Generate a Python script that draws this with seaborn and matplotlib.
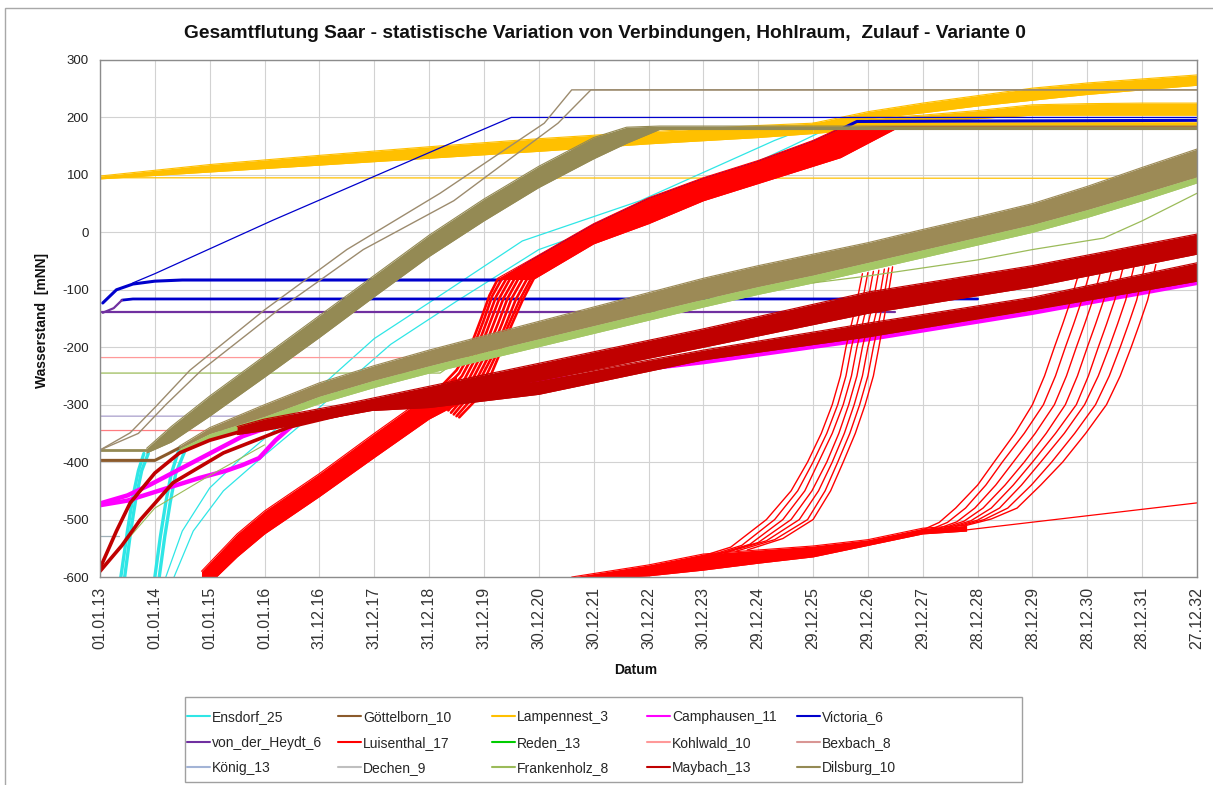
import numpy as np
import pandas as pd
import matplotlib
matplotlib.use("Agg")
import matplotlib.pyplot as plt
from matplotlib.lines import Line2D
from matplotlib.patches import Rectangle
import seaborn as sns

# ---------------- texts / axes ----------------
TITLE = "Gesamtflutung Saar - statistische Variation von Verbindungen, Hohlraum,  Zulauf - Variante 0"
Y_LABEL = "Wasserstand  [mNN]"
X_LABEL = "Datum"
START_DATE = "2013-01-01"
TICK_STEP_DAYS = 365
X_TICK_STEPS = list(range(0, 21))
Y_TICKS = [-600, -500, -400, -300, -200, -100, 0, 100, 200, 300]

SERIES = ["Ensdorf_25", "Göttelborn_10", "Lampennest_3", "Camphausen_11", "Victoria_6",
          "von_der_Heydt_6", "Luisenthal_17", "Reden_13", "Kohlwald_10", "Bexbach_8",
          "König_13", "Dechen_9", "Frankenholz_8", "Maybach_13", "Dilsburg_10"]
PALETTE = ["#2FE6E6", "#8B5A2B", "#FFC000", "#FF00FF", "#0000CC",
           "#7030A0", "#FF0000", "#00CC00", "#FF9999", "#D99694",
           "#A3B4D6", "#BFBFBF", "#9BBB59", "#C00000", "#948A54"]

# ---------------- data: (years after start, water level mNN) ----------------
# Ensdorf
ENS_THICK_1A = [(0.38, -600), (0.5, -520), (0.6, -460), (0.7, -415), (0.8, -385)]
ENS_THICK_1B = [(0.45, -600), (0.56, -520), (0.66, -460), (0.76, -415), (0.88, -385)]
ENS_THICK_2A = [(1.0, -600), (1.1, -530), (1.2, -470), (1.3, -420), (1.45, -375)]
ENS_THICK_2B = [(1.08, -600), (1.18, -530), (1.28, -470), (1.38, -420), (1.55, -380)]
ENS_THIN_1 = [(1.2, -600), (1.5, -520), (2.0, -445), (2.55, -395), (3.3, -335), (4.1, -262),
              (5.0, -185), (6.2, -110), (7.7, -15), (9.85, 55), (12.3, 160), (12.9, 182), (20, 182)]
ENS_THIN_2 = [(1.35, -600), (1.7, -520), (2.25, -450), (2.85, -400), (3.6, -340), (4.4, -270),
              (5.3, -195), (6.5, -120), (8.0, -30), (10.15, 42), (12.6, 150), (13.3, 182), (20, 182)]
# Göttelborn
GOT_START = [(0, -397), (1.0, -397), (1.25, -385), (1.45, -375)]
# Lampennest
GOLD_THIN = [(0, 95), (20, 94)]
GOLD_T = [0, 2, 4, 6, 8, 10, 12, 13]
GOLD_HI = [98, 118, 134, 149, 163, 175, 186, 190]
GOLD_LO = [93, 105, 117, 129, 141, 154, 165, 172]
GOLD_R_T = [13, 14, 15, 16, 17, 18, 19, 20]
GOLD_UP_HI = [190, 210, 225, 238, 251, 260, 267, 274]
GOLD_UP_LO = [186, 198, 208, 220, 230, 240, 248, 256]
GOLD_MID_HI = [188, 198, 204, 212, 222, 224, 225, 225]
GOLD_MID_LO = [180, 188, 192, 198, 204, 204, 204, 204]
GOLD_LOW_HI = [190, 192, 192, 192, 192, 192, 192, 192]
GOLD_LOW_LO = [172, 180, 180, 180, 180, 180, 180, 180]
# Camphausen
CAMP_UPPER = [(0, -472), (0.5, -458), (0.9, -440), (1.4, -415), (1.8, -395), (2.6, -355), (3.2, -335),
              (3.6, -322), (5, -302), (7, -272), (9, -248), (11, -226), (14, -186), (17, -140), (20, -88)]
CAMP_LOWER = [(0, -475), (0.5, -467), (0.9, -455), (1.8, -428), (2.3, -415), (2.6, -405),
              (2.9, -393), (3.2, -362), (3.5, -337), (3.8, -325)]
# Victoria
VIC_MAIN = [(0.05, -123), (0.3, -100), (0.6, -90), (1.0, -85), (1.5, -83), (7.3, -83), (7.9, -48),
            (9, 12), (10, 57), (11, 92), (12, 122), (13, 157), (13.5, 179), (13.8, 193), (20, 195)]
VIC_THIN = [(0.6, -88), (1.0, -72), (3.15, 21), (6.2, 147), (7.3, 192), (7.5, 200), (20, 200)]
VIC_LEVEL = [(0.4, -118), (0.6, -116), (16, -116)]
# von der Heydt
VDH_LEVEL = [(0, -139), (14.5, -139)]
VDH_RISE = [(0.05, -140), (0.25, -132), (0.4, -118)]
# Luisenthal
LUI1_T = [1.85, 2.5, 3, 4, 5, 6, 6.5]
LUI1_HI = [-590, -525, -485, -420, -350, -282, -250]
LUI1_LO = [-625, -565, -525, -460, -392, -325, -300]
LUI_FAN1 = [
    [(6.1, -280), (6.5, -240), (6.75, -200), (6.95, -150), (7.1, -110), (7.25, -82)],
    [(6.15, -287), (6.55, -245), (6.8, -202), (7.0, -152), (7.15, -111), (7.32, -82)],
    [(6.2, -294), (6.6, -250), (6.86, -204), (7.06, -153), (7.22, -112), (7.4, -82)],
    [(6.25, -300), (6.65, -255), (6.92, -206), (7.12, -155), (7.29, -113), (7.47, -82)],
    [(6.3, -306), (6.7, -260), (6.98, -208), (7.19, -156), (7.36, -114), (7.55, -82)],
    [(6.35, -310), (6.75, -264), (7.04, -210), (7.26, -158), (7.43, -115), (7.62, -82)],
    [(6.4, -314), (6.8, -268), (7.1, -213), (7.33, -159), (7.5, -116), (7.7, -82)],
    [(6.45, -317), (6.85, -271), (7.15, -216), (7.4, -160), (7.58, -117), (7.78, -82)],
    [(6.5, -320), (6.92, -274), (7.2, -218), (7.45, -161), (7.65, -118), (7.85, -82)],
    [(6.55, -322), (7.0, -277), (7.25, -220), (7.5, -162), (7.7, -119), (7.9, -82)],
]
LUI2_T = [7.25, 7.9, 9, 10, 11, 12, 13, 13.5, 14.5, 20]
LUI2_HI = [-80, -45, 15, 60, 95, 125, 160, 182, 184, 184]
LUI2_LO = [-82, -82, -20, 15, 55, 85, 115, 130, 180, 180]
LUI3_T = [8.6, 10, 11, 12, 13, 14, 15, 15.8]
LUI3_HI = [-600, -579, -560, -553, -546, -535, -515, -510]
LUI3_LO = [-605, -598, -588, -576, -565, -545, -525, -520]
LUI_FAN2 = [
    [(10.6, -575), (11.5, -548), (12.15, -500), (12.6, -450), (12.9, -400), (13.15, -350),
     (13.35, -300), (13.5, -250), (13.6, -200), (13.8, -120), (13.9, -72)],
    [(10.8, -572), (11.7, -545), (12.3, -500), (12.72, -450), (13.0, -400), (13.25, -350),
     (13.45, -300), (13.6, -250), (13.7, -200), (13.9, -120), (14.0, -70)],
    [(11.0, -568), (11.85, -543), (12.45, -500), (12.85, -450), (13.1, -400), (13.35, -350),
     (13.55, -300), (13.7, -250), (13.8, -200), (14.0, -120), (14.1, -68)],
    [(11.2, -562), (12.0, -540), (12.6, -500), (12.98, -450), (13.25, -400), (13.47, -350),
     (13.65, -300), (13.8, -250), (13.9, -200), (14.1, -120), (14.2, -66)],
    [(11.4, -558), (12.15, -537), (12.75, -500), (13.1, -450), (13.35, -400), (13.57, -350),
     (13.75, -300), (13.9, -250), (14.0, -200), (14.2, -120), (14.3, -64)],
    [(11.6, -555), (12.3, -535), (12.9, -500), (13.22, -450), (13.45, -400), (13.67, -350),
     (13.85, -300), (14.0, -250), (14.1, -200), (14.28, -120), (14.38, -62)],
    [(11.8, -553), (12.45, -533), (13.0, -500), (13.32, -450), (13.55, -400), (13.77, -350),
     (13.95, -300), (14.1, -250), (14.2, -200), (14.35, -120), (14.45, -60)],
]
LUI_FAN3 = [
    [(15.0, -518), (15.3, -505), (15.6, -480), (16.0, -440), (16.3, -400), (16.68, -350),
     (17.0, -300), (17.22, -250), (17.4, -200), (17.55, -160), (17.7, -118), (17.85, -70)],
    [(15.15, -517), (15.45, -505), (15.78, -480), (16.15, -440), (16.45, -400), (16.85, -350),
     (17.2, -300), (17.42, -250), (17.6, -200), (17.75, -160), (17.9, -118), (18.05, -68)],
    [(15.3, -515), (15.62, -504), (15.95, -480), (16.33, -440), (16.65, -400), (17.05, -350),
     (17.4, -300), (17.62, -250), (17.8, -200), (17.95, -160), (18.1, -118), (18.25, -66)],
    [(15.4, -514), (15.75, -503), (16.1, -480), (16.5, -440), (16.85, -400), (17.25, -350),
     (17.6, -300), (17.82, -250), (18.0, -200), (18.15, -160), (18.3, -118), (18.45, -64)],
    [(15.5, -513), (15.88, -502), (16.25, -480), (16.65, -440), (17.0, -400), (17.42, -350),
     (17.8, -300), (18.02, -250), (18.2, -200), (18.35, -160), (18.5, -118), (18.65, -62)],
    [(15.6, -512), (16.0, -501), (16.4, -480), (16.8, -440), (17.15, -400), (17.58, -350),
     (17.95, -300), (18.2, -250), (18.4, -200), (18.55, -160), (18.7, -118), (18.85, -60)],
    [(15.7, -511), (16.12, -500), (16.55, -480), (16.98, -440), (17.35, -400), (17.77, -350),
     (18.15, -300), (18.4, -250), (18.6, -200), (18.75, -160), (18.9, -118), (19.05, -58)],
    [(15.8, -510), (16.25, -499), (16.72, -480), (17.15, -440), (17.55, -400), (17.97, -350),
     (18.35, -300), (18.6, -250), (18.8, -200), (18.95, -160), (19.1, -118), (19.25, -56)],
]
LUI_TAIL = [(15.8, -518), (20, -471)]
# Kohlwald / Bexbach / König / Dechen
KOH_LEVEL = [(0, -218), (7.0, -218), (7.5, -185)]
BEX_LEVEL = [(0, -345), (2.6, -345), (3.0, -325)]
KON_LEVEL = [(0, -320), (2.8, -320), (3.1, -305)]
DEC_LEVEL = [(0, -528), (0.35, -528)]
# Frankenholz
FRK_LEVEL = [(0, -245), (6.2, -245), (6.5, -225)]
FRK_LEFT = [(0, -590), (0.5, -535), (1.0, -480), (1.95, -426), (3.0, -370)]
FRK_RIGHT = [(13, -88), (14, -76), (15, -62), (16, -48), (17, -30), (18.3, -10), (19, 20), (20, 68)]
# Maybach
MAY_A = [(0, -585), (0.3, -520), (0.55, -471), (1.0, -419), (1.45, -384), (2.0, -362), (3.0, -335)]
MAY_B = [(0, -590), (0.4, -545), (0.73, -501), (1.33, -436), (2.25, -384), (3.45, -339), (4.5, -315), (5.9, -290)]
MAY_UP_T = [2.5, 3, 4.5, 6, 8, 11, 14, 17, 20]
MAY_UP_HI = [-338, -325, -298, -268, -228, -168, -104, -58, -3]
MAY_UP_LO = [-352, -345, -318, -292, -258, -200, -141, -95, -38]
MAY_LOW_T = [5, 6, 8, 11, 14, 17, 20]
MAY_LOW_HI = [-295, -285, -258, -205, -158, -113, -53]
MAY_LOW_LO = [-310, -305, -282, -222, -182, -135, -85]
# Dilsburg
DIL_START = [(0, -379), (0.85, -379)]
DIL_THIN_A = [(0, -379), (0.55, -349), (1.0, -305), (1.64, -240), (3.0, -135), (4.5, -30),
              (6.2, 68), (8.1, 190), (8.6, 248), (20, 248)]
DIL_THIN_B = [(0, -379), (0.7, -350), (1.2, -300), (1.85, -240), (3.25, -135), (4.8, -30),
              (6.45, 55), (8.35, 190), (8.95, 248), (20, 248)]
DIL_UP_T = [0.85, 1.3, 2, 3, 4, 5, 6, 7, 8, 9, 9.6, 10.2, 20]
DIL_UP_HI = [-376, -338, -285, -215, -145, -75, -5, 58, 115, 165, 183, 185, 185]
DIL_UP_LO = [-384, -365, -320, -252, -183, -112, -42, 20, 78, 128, 155, 179, 179]
LOW_T = [1.45, 2, 3, 4, 5, 6, 7, 8, 9, 10, 11, 12, 13, 14, 15, 16, 17, 18, 19, 20]
LOW_HI = [-372, -340, -300, -262, -232, -205, -180, -155, -130, -105, -80, -58, -38, -18, 5, 27, 50, 80, 113, 145]
LOW_LO = [-376, -350, -320, -285, -257, -232, -208, -185, -162, -139, -116, -94, -74, -52, -30, -8, 14, 40, 68, 97]
LOWG_LO = [-380, -360, -332, -298, -270, -245, -222, -199, -176, -153, -130, -108, -88, -66, -44, -22, 0, 26, 55, 86]

# ---------------- drawing ----------------
sns.set_theme(style="white")
plt.rcParams["font.family"] = ["Liberation Sans", "DejaVu Sans"]

COL = dict(zip(SERIES, PALETTE))
BASE = pd.Timestamp(START_DATE)


def to_dates(ts):
    return BASE + pd.to_timedelta(np.asarray(ts, dtype=float) * TICK_STEP_DAYS, unit="D")


fig = plt.figure(figsize=(12.13, 7.85), dpi=100)
ax = fig.add_axes([100 / 1213, 1 - 577 / 785, 1097 / 1213, 517 / 785])
zc = [2.0]


def line(series, pts, lw=1.0, color=None):
    t, v = zip(*pts)
    df = pd.DataFrame({"Datum": to_dates(t), "Wert": v})
    zc[0] += 0.001
    sns.lineplot(data=df, x="Datum", y="Wert", ax=ax, color=color or COL[series], lw=lw,
                 sort=False, estimator=None, legend=False, zorder=zc[0])


def band(series, t, hi, lo, color=None):
    c = color or COL[series]
    zc[0] += 0.001
    d = to_dates(t)
    ax.fill_between(d, lo, hi, color=c, lw=0, zorder=zc[0])
    line(series, list(zip(t, hi)), lw=0.8, color=c)
    line(series, list(zip(t, lo)), lw=0.8, color=c)


# Ensdorf
for p in (ENS_THICK_1A, ENS_THICK_1B, ENS_THICK_2A, ENS_THICK_2B):
    line("Ensdorf_25", p, lw=2.4)
line("Ensdorf_25", ENS_THIN_1, lw=0.9)
line("Ensdorf_25", ENS_THIN_2, lw=0.9)
# Göttelborn
line("Göttelborn_10", GOT_START, lw=2.2)
# Lampennest
line("Lampennest_3", GOLD_THIN, lw=0.9)
band("Lampennest_3", GOLD_T, GOLD_HI, GOLD_LO)
band("Lampennest_3", GOLD_R_T, GOLD_UP_HI, GOLD_UP_LO)
band("Lampennest_3", GOLD_R_T, GOLD_MID_HI, GOLD_MID_LO)
band("Lampennest_3", GOLD_R_T, GOLD_LOW_HI, GOLD_LOW_LO)
# Camphausen
line("Camphausen_11", CAMP_UPPER, lw=3.2)
line("Camphausen_11", CAMP_LOWER, lw=3.2)
# Victoria
line("Victoria_6", VIC_MAIN, lw=2.2)
line("Victoria_6", VIC_THIN, lw=0.9)
line("Victoria_6", VIC_LEVEL, lw=2.0)
# von der Heydt
line("von_der_Heydt_6", VDH_LEVEL, lw=1.6)
line("von_der_Heydt_6", VDH_RISE, lw=1.6)
# Luisenthal
band("Luisenthal_17", LUI1_T, LUI1_HI, LUI1_LO)
for p in LUI_FAN1:
    line("Luisenthal_17", p, lw=1.9)
band("Luisenthal_17", LUI2_T, LUI2_HI, LUI2_LO)
band("Luisenthal_17", LUI3_T, LUI3_HI, LUI3_LO)
for p in LUI_FAN2:
    line("Luisenthal_17", p, lw=1.0)
for p in LUI_FAN3:
    line("Luisenthal_17", p, lw=1.0)
line("Luisenthal_17", LUI_TAIL, lw=0.9)
# Kohlwald, Bexbach, König, Dechen
line("Kohlwald_10", KOH_LEVEL, lw=0.9)
line("Bexbach_8", BEX_LEVEL, lw=0.9, color="#FF7C80")
line("König_13", KON_LEVEL, lw=0.9, color="#A99FCB")
line("Dechen_9", DEC_LEVEL, lw=0.9, color="#9FB0B8")
# Frankenholz
line("Frankenholz_8", FRK_LEVEL, lw=0.9)
line("Frankenholz_8", FRK_LEFT, lw=0.8)
band("Frankenholz_8", LOW_T, LOW_LO, LOWG_LO, color="#A5C866")
line("Frankenholz_8", FRK_RIGHT, lw=0.9)
# Maybach
line("Maybach_13", MAY_A, lw=2.6)
line("Maybach_13", MAY_B, lw=2.6)
band("Maybach_13", MAY_UP_T, MAY_UP_HI, MAY_UP_LO)
band("Maybach_13", MAY_LOW_T, MAY_LOW_HI, MAY_LOW_LO)
# Dilsburg
line("Dilsburg_10", DIL_START, lw=2.0)
line("Dilsburg_10", DIL_THIN_A, lw=1.0, color="#9C8B6E")
line("Dilsburg_10", DIL_THIN_B, lw=1.0, color="#9C8B6E")
band("Dilsburg_10", DIL_UP_T, DIL_UP_HI, DIL_UP_LO)
band("Dilsburg_10", LOW_T, LOW_HI, LOW_LO, color="#9C8A56")

# ---------------- axes styling ----------------
ticks = to_dates(X_TICK_STEPS)
ax.set_xlim(ticks[0], ticks[-1])
ax.set_ylim(Y_TICKS[0], Y_TICKS[-1])
ax.set_xticks(ticks)
ax.set_xticklabels([d.strftime("%d.%m.%y") for d in ticks], rotation=90,
                   fontsize=11.5, color="#333333")
ax.set_yticks(Y_TICKS)
ax.set_yticklabels([str(v) for v in Y_TICKS], fontsize=9.5, color="#222222")
ax.tick_params(axis="both", length=0)
ax.tick_params(axis="x", pad=7)
ax.tick_params(axis="y", pad=8)
ax.grid(True, color="#D2D2D2", lw=0.8)
ax.set_axisbelow(True)
for s in ax.spines.values():
    s.set_color("#8C8C8C")
    s.set_linewidth(1.0)
ax.set_xlabel("")
ax.set_ylabel("")

fig.text(605 / 1213, 1 - 33 / 785, TITLE, ha="center", va="center", fontsize=13.8,
         fontweight="bold", color="#111111")
fig.text(42 / 1213, 1 - 320 / 785, Y_LABEL, ha="center", va="center", rotation=90,
         fontsize=10, fontweight="bold", color="#111111")
fig.text(636 / 1213, 1 - 670 / 785, X_LABEL, ha="center", va="center",
         fontsize=10, fontweight="bold", color="#111111")

# legend: five equal-pitch columns, row-major order as in the original
ncol, nrow = 5, 3
col_x = [187, 338, 492, 647, 797]
for c in range(ncol):
    names = [SERIES[r * ncol + c] for r in range(nrow)]
    hs = [Line2D([0], [0], color=COL[s], lw=1.5) for s in names]
    fig.legend(hs, names, loc="upper left", bbox_to_anchor=(col_x[c] / 1213, 1 - 710 / 785),
               fontsize=10, frameon=False, handlelength=1.65, handletextpad=0.15,
               labelspacing=0.83, borderaxespad=0.0, borderpad=0.0)
fig.patches.append(Rectangle((185 / 1213, 1 - 782 / 785), 837 / 1213, 85 / 785,
                             transform=fig.transFigure, fill=False, edgecolor="#A0A0A0", lw=1.0))

# chart area border
fig.patches.append(Rectangle((5 / 1213, -0.05), 1.2, 1 - 8 / 785 + 0.05, transform=fig.transFigure,
                             fill=False, edgecolor="#A8A8A8", lw=1.0))

fig.savefig("out.png", dpi=100)
